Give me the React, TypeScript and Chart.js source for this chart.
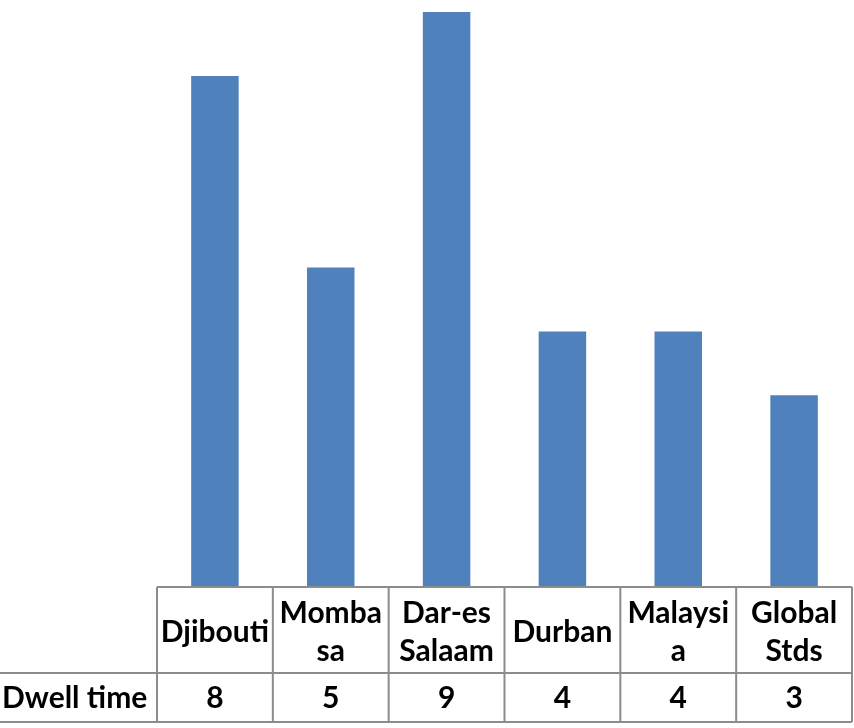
import React, { useEffect, useRef } from "react";
import { Chart, registerables } from "chart.js";

Chart.register(...registerables);

const categories: string[][] = [
  ["Djibouti"],
  ["Momba", "sa"],
  ["Dar-es", "Salaam"],
  ["Durban"],
  ["Malaysi", "a"],
  ["Global", "Stds"],
];
const seriesName = "Dwell time";
const dwellTime: number[] = [8, 5, 9, 4, 4, 3];

const FONT = "bold 30px Lato, 'Open Sans', sans-serif";
const LINE = "#8c8c8c";

const tablePlugin = {
  id: "dataTable",
  afterDraw(chart: any) {
    const { ctx, chartArea, scales } = chart;
    const x = scales.x;
    const n = categories.length;
    const colW = (chartArea.right - chartArea.left) / n;
    const top = chartArea.bottom;
    const row1 = top + 86;
    const row2 = row1 + 49;
    ctx.save();
    ctx.strokeStyle = LINE;
    ctx.lineWidth = 2;
    ctx.beginPath();
    ctx.moveTo(chartArea.left, top);
    ctx.lineTo(chartArea.right, top);
    ctx.moveTo(0, row1);
    ctx.lineTo(chartArea.right, row1);
    ctx.moveTo(0, row2);
    ctx.lineTo(chartArea.right, row2);
    for (let i = 0; i <= n; i++) {
      const px = chartArea.left + i * colW;
      ctx.moveTo(px, top);
      ctx.lineTo(px, row2);
    }
    ctx.stroke();

    ctx.fillStyle = "#000";
    ctx.font = FONT;
    ctx.textAlign = "center";
    ctx.textBaseline = "middle";
    const lh = 38;
    categories.forEach((lines, i) => {
      const cx = x.getPixelForValue(i);
      const mid = (top + row1) / 2 + 2;
      const start = mid - ((lines.length - 1) * lh) / 2;
      lines.forEach((t, j) => ctx.fillText(t, cx, start + j * lh));
      ctx.fillText(String(dwellTime[i]), cx, (row1 + row2) / 2 + 1);
    });
    ctx.textAlign = "left";
    ctx.fillText(seriesName, 2, (row1 + row2) / 2 + 1);
    ctx.restore();
  },
};

export default function App() {
  const ref = useRef<HTMLCanvasElement>(null);
  useEffect(() => {
    document.body.style.margin = "0";
    const chart = new Chart(ref.current!, {
      type: "bar",
      data: {
        labels: categories.map((c) => c.join("")),
        datasets: [
          {
            label: seriesName,
            data: dwellTime,
            backgroundColor: "#4f81bd",
            categoryPercentage: 1,
            barPercentage: 0.41,
          },
        ],
      },
      options: {
        animation: false,
        responsive: false,
        layout: { padding: { left: 157, right: 2, top: 12, bottom: 141 } },
        plugins: { legend: { display: false }, tooltip: { enabled: false } },
        scales: {
          x: { display: false },
          y: { display: false, min: 0, max: 9 },
        },
      },
      plugins: [tablePlugin],
    });
    return () => chart.destroy();
  }, []);
  return <canvas ref={ref} width={854} height={728} style={{ display: "block" }} />;
}
